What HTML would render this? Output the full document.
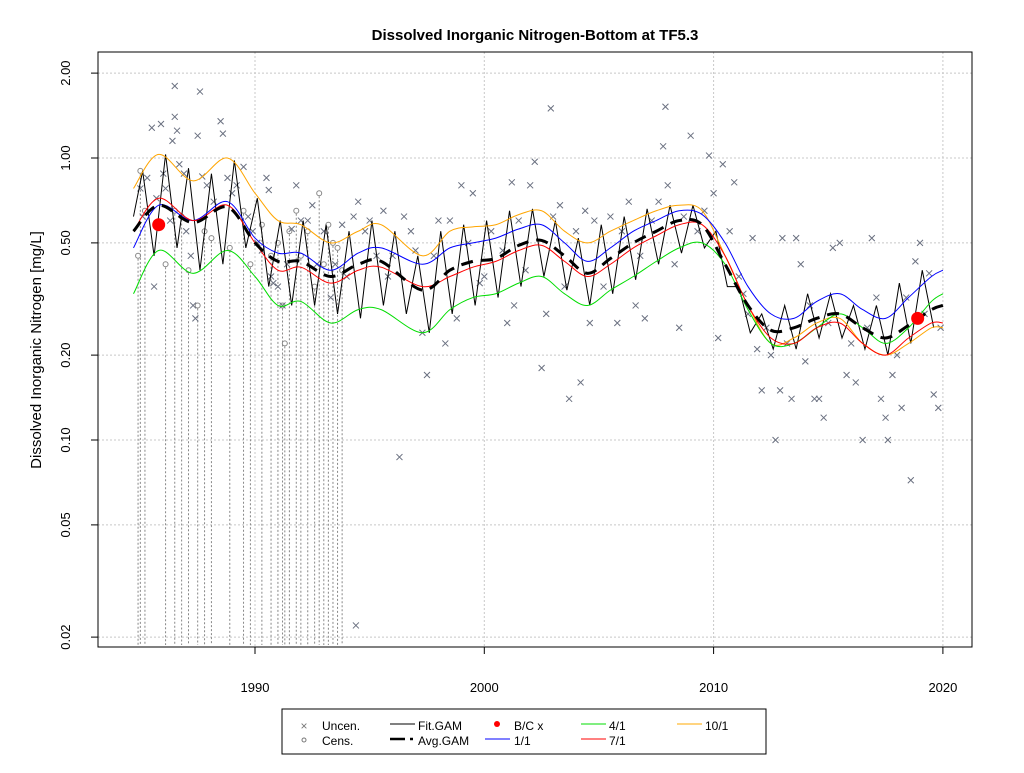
<!DOCTYPE html>
<html><head><meta charset="utf-8"><style>
body{margin:0;background:#fff;}
svg text{font-family:"Liberation Sans",Arial,sans-serif;}
</style></head><body>
<svg id="chart" width="1024" height="768" viewBox="0 0 1024 768" xmlns="http://www.w3.org/2000/svg">
<text x="535" y="40" text-anchor="middle" font-size="15" font-weight="bold">Dissolved Inorganic Nitrogen-Bottom at TF5.3</text>
<text transform="translate(41,350) rotate(-90)" text-anchor="middle" font-size="15">Dissolved Inorganic Nitrogen [mg/L]</text>
<g id="grid"></g>
<g id="axes"></g>
<g id="cens"></g>
<g id="unc"></g>
<g id="lines"></g>
<rect x="98" y="52" width="874" height="595" fill="none" stroke="#000"/>
<g>
<rect x="282" y="709" width="484" height="45" fill="#fff" stroke="#000"/>
<g><text x="304" y="730" font-size="12" fill="#777" text-anchor="middle">×</text><text x="322" y="730" font-size="12">Uncen.</text></g>
<g><circle cx="304" cy="740" r="2" fill="none" stroke="#777"/><text x="322" y="745" font-size="12">Cens.</text></g>
<g><line x1="390" y1="724" x2="415" y2="724" stroke="#000"/><text x="418" y="730" font-size="12">Fit.GAM</text></g>
<g><line x1="390" y1="739" x2="405" y2="739" stroke="#000" stroke-width="2.5"/><line x1="410" y1="739" x2="413" y2="739" stroke="#000" stroke-width="2.5"/><text x="418" y="745" font-size="12">Avg.GAM</text></g>
<g><circle cx="497" cy="724" r="3" fill="#f00"/><text x="514" y="730" font-size="12">B/C x</text></g>
<g><line x1="485" y1="739" x2="510" y2="739" stroke="#00f"/><text x="514" y="745" font-size="12">1/1</text></g>
<g><line x1="581" y1="724" x2="606" y2="724" stroke="#0d0"/><text x="609" y="730" font-size="12">4/1</text></g>
<g><line x1="581" y1="739" x2="606" y2="739" stroke="#f00"/><text x="609" y="745" font-size="12">7/1</text></g>
<g><line x1="677" y1="724" x2="702" y2="724" stroke="#fa0"/><text x="705" y="730" font-size="12">10/1</text></g>
</g>
</svg>
<script>
const xTicks=[1990,2000,2010,2020];
const yTicks=[0.02,0.05,0.10,0.20,0.50,1.00,2.00];
const yTickLabels=["0.02","0.05","0.10","0.20","0.50","1.00","2.00"];
const knots=[1984.7,1985.8,1987.3,1988.8,1990,1991,1992,1993.3,1994.5,1995.5,1997.3,1998.5,1999.5,2000.5,2001.5,2002.5,2003.5,2004.5,2005.5,2006.5,2007.5,2008.5,2009.5,2010.5,2011.5,2012.5,2013.5,2014.5,2015.5,2016.5,2017.5,2018.5,2019.5,2020];
const avgGam=[0.55,0.68,0.59,0.67,0.50,0.43,0.43,0.38,0.42,0.43,0.34,0.40,0.43,0.44,0.49,0.51,0.45,0.39,0.44,0.50,0.55,0.60,0.58,0.42,0.30,0.245,0.25,0.27,0.28,0.25,0.23,0.255,0.29,0.30];
const line10=[0.78,1.03,0.83,1.00,0.75,0.60,0.58,0.50,0.55,0.58,0.45,0.55,0.57,0.58,0.63,0.65,0.55,0.50,0.55,0.60,0.65,0.68,0.65,0.45,0.30,0.22,0.23,0.26,0.27,0.22,0.20,0.22,0.25,0.25];
const line4=[0.33,0.47,0.39,0.47,0.38,0.30,0.31,0.26,0.29,0.29,0.24,0.29,0.32,0.33,0.36,0.38,0.33,0.30,0.34,0.38,0.43,0.48,0.50,0.42,0.29,0.22,0.22,0.25,0.28,0.25,0.22,0.25,0.31,0.33];
const line1=[0.48,0.68,0.60,0.70,0.52,0.46,0.46,0.40,0.46,0.48,0.42,0.48,0.50,0.52,0.56,0.58,0.50,0.43,0.48,0.55,0.60,0.65,0.63,0.50,0.35,0.28,0.27,0.31,0.33,0.29,0.27,0.32,0.38,0.40];
const line7=[0.55,0.72,0.60,0.68,0.50,0.40,0.41,0.36,0.40,0.41,0.35,0.38,0.41,0.43,0.47,0.49,0.43,0.38,0.42,0.48,0.53,0.58,0.58,0.45,0.30,0.23,0.22,0.25,0.26,0.22,0.20,0.23,0.26,0.26];
const fitYears=[1985,1986,1987,1988,1989,1990,1991,1992,1993,1994,1995,1996,1997,1998,1999,2000,2001,2002,2003,2004,2005,2006,2007,2008,2009,2010,2011,2012,2013,2014,2015,2016,2017,2018,2019];
const fitHigh=[0.90,1.03,0.92,0.88,0.98,0.72,0.60,0.60,0.58,0.55,0.60,0.55,0.45,0.55,0.58,0.60,0.65,0.66,0.60,0.52,0.58,0.62,0.66,0.68,0.68,0.55,0.35,0.28,0.30,0.33,0.33,0.30,0.30,0.36,0.40];
const fitLow=[0.45,0.48,0.40,0.42,0.48,0.35,0.30,0.30,0.28,0.27,0.30,0.28,0.24,0.28,0.30,0.32,0.35,0.38,0.34,0.30,0.33,0.37,0.42,0.46,0.48,0.35,0.24,0.21,0.21,0.23,0.23,0.21,0.20,0.22,0.25];
const bcYears=[1985.8,2018.9];
const bcValues=[0.58,0.27];
const uncen=[[1985.0,0.78],[1985.1,0.62],[1985.3,0.85],[1985.5,1.28],[1985.6,0.35],[1985.7,0.72],[1985.9,1.32],[1986.0,0.88],[1986.1,0.78],[1986.3,0.60],[1986.4,1.15],[1986.5,1.40],[1986.5,1.80],[1986.6,1.25],[1986.7,0.95],[1986.9,0.88],[1987.0,0.55],[1987.2,0.45],[1987.3,0.30],[1987.4,0.27],[1987.5,1.20],[1987.6,1.72],[1987.7,0.86],[1987.9,0.80],[1988.2,0.70],[1988.5,1.35],[1988.6,1.22],[1988.8,0.85],[1989.0,0.75],[1989.2,0.80],[1989.5,0.93],[1989.7,0.62],[1989.9,0.55],[1990.1,0.50],[1990.3,0.47],[1990.5,0.85],[1990.6,0.77],[1990.7,0.38],[1990.8,0.36],[1991.0,0.35],[1991.2,0.30],[1991.4,0.42],[1991.6,0.56],[1991.8,0.80],[1992.0,0.60],[1992.3,0.60],[1992.5,0.68],[1992.7,0.42],[1993.0,0.55],[1993.3,0.32],[1993.5,0.42],[1993.8,0.58],[1994.0,0.38],[1994.3,0.62],[1994.4,0.022],[1994.5,0.70],[1994.8,0.55],[1995.0,0.60],[1995.3,0.45],[1995.6,0.65],[1995.8,0.38],[1996.0,0.45],[1996.3,0.087],[1996.5,0.62],[1996.8,0.55],[1997.0,0.47],[1997.3,0.24],[1997.5,0.17],[1997.8,0.45],[1998.0,0.60],[1998.3,0.22],[1998.5,0.60],[1998.8,0.27],[1999.0,0.80],[1999.3,0.50],[1999.5,0.75],[1999.8,0.36],[2000.0,0.38],[2000.3,0.55],[2000.8,0.47],[2001.0,0.26],[2001.2,0.82],[2001.3,0.30],[2001.5,0.60],[2001.8,0.40],[2002.0,0.80],[2002.2,0.97],[2002.5,0.18],[2002.7,0.28],[2002.9,1.50],[2003.0,0.62],[2003.3,0.68],[2003.5,0.35],[2003.7,0.14],[2004.0,0.55],[2004.2,0.16],[2004.4,0.65],[2004.6,0.26],[2004.8,0.60],[2005.2,0.35],[2005.5,0.62],[2005.8,0.26],[2006.0,0.55],[2006.3,0.70],[2006.6,0.30],[2006.8,0.45],[2007.0,0.27],[2007.3,0.60],[2007.6,0.70],[2007.8,1.10],[2007.9,1.52],[2008.0,0.80],[2008.3,0.42],[2008.5,0.25],[2008.7,0.62],[2009.0,1.20],[2009.3,0.55],[2009.6,0.65],[2009.8,1.02],[2010.0,0.75],[2010.2,0.23],[2010.4,0.95],[2010.7,0.55],[2010.9,0.82],[2011.1,0.38],[2011.3,0.33],[2011.5,0.28],[2011.7,0.52],[2011.9,0.21],[2012.1,0.15],[2012.3,0.25],[2012.5,0.20],[2012.7,0.10],[2012.9,0.15],[2013.0,0.52],[2013.2,0.22],[2013.4,0.14],[2013.6,0.52],[2013.8,0.42],[2014.0,0.19],[2014.2,0.30],[2014.4,0.14],[2014.6,0.14],[2014.8,0.12],[2015.0,0.26],[2015.2,0.48],[2015.5,0.50],[2015.8,0.17],[2016.0,0.22],[2016.2,0.16],[2016.5,0.10],[2016.7,0.25],[2016.9,0.52],[2017.1,0.32],[2017.3,0.14],[2017.5,0.12],[2017.6,0.10],[2017.8,0.17],[2018.0,0.20],[2018.2,0.13],[2018.4,0.32],[2018.6,0.072],[2018.8,0.43],[2019.0,0.50],[2019.2,0.28],[2019.4,0.39],[2019.6,0.145],[2019.8,0.13],[2019.9,0.25]];
const cens=[[1984.9,0.45],[1985.0,0.9],[1985.2,0.65],[1986.1,0.42],[1986.5,0.65],[1986.8,0.62],[1987.1,0.40],[1987.5,0.30],[1987.8,0.55],[1988.1,0.52],[1988.9,0.48],[1989.5,0.65],[1989.8,0.42],[1990.3,0.58],[1990.7,0.45],[1991.0,0.50],[1991.2,0.30],[1991.3,0.22],[1991.5,0.55],[1991.8,0.65],[1992.0,0.45],[1992.3,0.55],[1992.6,0.35],[1992.8,0.75],[1993.0,0.42],[1993.2,0.58],[1993.4,0.50],[1993.6,0.48],[1993.8,0.40]];

const NS="http://www.w3.org/2000/svg";
function X(t){return 255+(t-1990)*22.93;}
function Y(v){return 158-Math.log10(v)*282;}
function mk(tag,attrs,parent){const e=document.createElementNS(NS,tag);for(const k in attrs)e.setAttribute(k,attrs[k]);document.getElementById(parent).appendChild(e);return e;}
function smooth(ts,vs){const p=ts.map((t,i)=>[X(t),Y(vs[i])]);let d="M"+p[0][0]+","+p[0][1];
for(let i=0;i<p.length-1;i++){const p0=p[Math.max(0,i-1)],p1=p[i],p2=p[i+1],p3=p[Math.min(p.length-1,i+2)];
d+=` C${p1[0]+(p2[0]-p0[0])/6},${p1[1]+(p2[1]-p0[1])/6} ${p2[0]-(p3[0]-p1[0])/6},${p2[1]-(p3[1]-p1[1])/6} ${p2[0]},${p2[1]}`;}return d;}

xTicks.forEach(t=>{
 const g=mk('line',{x1:X(t),x2:X(t),y1:52,y2:647,stroke:'#c8c8c8','stroke-dasharray':'2,2'},'grid');
 
 
 const tk=mk('line',{x1:X(t),x2:X(t),y1:647,y2:654,stroke:'#000'},'axes');
 
 
 const l=mk('text',{x:X(t),y:692,'text-anchor':'middle','font-size':'13'},'axes');l.textContent=t;
 
 
});
yTicks.forEach((v,i)=>{
 const g=mk('line',{x1:98,x2:972,y1:Y(v),y2:Y(v),stroke:'#c8c8c8','stroke-dasharray':'2,2'},'grid');
 
 
 const tk=mk('line',{x1:91,x2:98,y1:Y(v),y2:Y(v),stroke:'#000'},'axes');
 
 
 const l=mk('text',{transform:`translate(70,${Y(v)}) rotate(-90)`,'text-anchor':'middle','font-size':'13'},'axes');l.textContent=yTickLabels[i];
 
 
});
cens.forEach(p=>{
 const ln=mk('line',{x1:X(p[0]),x2:X(p[0]),y1:Y(p[1])+3,y2:645,stroke:'#888','stroke-dasharray':'2,2'},'cens');
 
 
 const c=mk('circle',{cx:X(p[0]),cy:Y(p[1]),r:2.5,fill:'none',stroke:'#888'},'cens');
 
 
});
uncen.forEach(p=>{
 const x=X(p[0]),y=Y(p[1]);
 const e=mk('path',{d:`M${x-3},${y-3}L${x+3},${y+3}M${x-3},${y+3}L${x+3},${y-3}`,stroke:'#6a7080','stroke-width':1},'unc');
 
 
});
// fit zigzag (straight segments)
let pts=[[1984.7,0.62]];fitYears.forEach((y,i)=>{pts.push([y+0.1,fitHigh[i]]);pts.push([y+0.6,fitLow[i]]);});
const fit=mk('polyline',{points:pts.map(p=>X(p[0])+","+Y(p[1])).join(" "),fill:'none',stroke:'#000','stroke-width':1},'lines');


[[line10,'#ffa500','line-10-1'],[line4,'#00dd00','line-4-1'],[line1,'#0000ff','line-1-1'],[line7,'#ff0000','line-7-1']].forEach(a=>{
 const e=mk('path',{d:smooth(knots,a[0]),fill:'none',stroke:a[1],'stroke-width':1},'lines');
 
 
});
const av=mk('path',{d:smooth(knots,avgGam),fill:'none',stroke:'#000','stroke-width':3,'stroke-dasharray':'12,8'},'lines');


bcYears.forEach((t,i)=>{
 const c=mk('circle',{cx:X(t),cy:Y(bcValues[i]),r:6.5,fill:'#f00'},'lines');
 
 
});
</script>
</body></html>
